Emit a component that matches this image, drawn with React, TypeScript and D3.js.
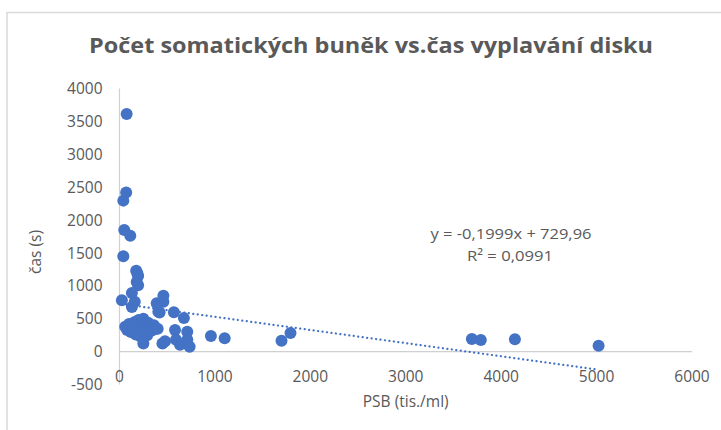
import React from "react";
import * as d3 from "d3";

const TITLE = "Počet somatických buněk vs.čas vyplavání disku";
const X_TITLE = "PSB (tis./ml)";
const Y_TITLE = "čas (s)";
const X_TICKS = [0, 1000, 2000, 3000, 4000, 5000, 6000];
const Y_TICKS = [-500, 0, 500, 1000, 1500, 2000, 2500, 3000, 3500, 4000];

const psb = [
  75, 70, 40, 50, 113, 40, 175, 195, 180, 195, 187, 130, 25, 160, 130, 460, 390, 460, 420, 570, 675,
  407, 145,
  60, 80, 100, 120, 140, 160, 180, 200, 210, 230, 250, 260, 280, 300, 320, 340, 360, 380, 400, 170, 220, 290, 130, 240,
  250, 450, 477, 582, 592, 634, 710, 711, 735, 958, 1102, 1698, 1792, 3693, 3787, 4144, 5021,
];
const cas = [
  3610, 2420, 2295, 1850, 1760, 1450, 1230, 1150, 1060, 1010, 1190, 890, 780, 760, 680, 850, 735, 760, 595, 600, 510,
  608, 430,
  380, 330, 420, 300, 360, 450, 390, 480, 310, 420, 500, 360, 280, 440, 380, 320, 400, 350, 350, 260, 230, 250, 400, 340,
  125, 125, 160, 330, 180, 105, 304, 180, 76, 240, 203, 167, 285, 193, 178, 188, 91,
];

const SLOPE = -0.1999;
const INTERCEPT = 729.96;
const EQ_TEXT = "y = -0,1999x + 729,96";
const R2_TEXT = "R² = 0,0991";

const FONT = "'Open Sans', 'DejaVu Sans', sans-serif";
const GRAY = "#595959";
const BLUE = "#4472C4";

export default function App() {
  const x = d3.scaleLinear().domain([0, 6000]).range([119.5, 692]);
  const y = d3.scaleLinear().domain([-500, 4000]).range([384.6, 88.4]);
  const xMin = d3.min(psb) as number;
  const xMax = d3.max(psb) as number;
  const trend = d3
    .line<number>()
    .x((d) => x(d))
    .y((d) => y(SLOPE * d + INTERCEPT));

  return (
    <svg
      width={721}
      height={430}
      style={{ position: "absolute", left: 0, top: 0, background: "#fff" }}
    >
      <rect x={0} y={0} width={721} height={430} fill="#fff" />
      <rect x={7} y={12.5} width={760} height={460} fill="#fff" stroke="#d9d9d9" strokeWidth={1.5} />
      <text
        x={371}
        y={53}
        textAnchor="middle"
        fontFamily={FONT}
        fontWeight={700}
        fontSize={21.5}
        fill={GRAY}
        textLength={564}
        lengthAdjust="spacingAndGlyphs"
      >
        {TITLE}
      </text>
      {/* axes */}
      <line x1={x(0)} x2={x(0)} y1={y(4000)} y2={y(-500)} stroke="#d0d0d0" strokeWidth={1.2} />
      <line x1={x(0)} x2={x(6000)} y1={y(0)} y2={y(0)} stroke="#d0d0d0" strokeWidth={1.2} />
      {Y_TICKS.map((t) => (
        <text
          key={"y" + t}
          x={102.5}
          y={y(t)}
          dy="0.36em"
          textAnchor="end"
          fontFamily={FONT}
          fontSize={15.5}
          fill={GRAY}
        >
          {t}
        </text>
      ))}
      {X_TICKS.map((t) => (
        <text
          key={"x" + t}
          x={x(t)}
          y={376}
          dy="0.36em"
          textAnchor="middle"
          fontFamily={FONT}
          fontSize={15.5}
          fill={GRAY}
        >
          {t}
        </text>
      ))}
      <text
        x={405.7}
        y={401.7}
        dy="0.36em"
        textAnchor="middle"
        fontFamily={FONT}
        fontSize={15.5}
        fill={GRAY}
      >
        {X_TITLE}
      </text>
      <text
        transform="translate(35,252) rotate(-90)"
        dy="0.36em"
        textAnchor="middle"
        fontFamily={FONT}
        fontSize={15.5}
        fill={GRAY}
      >
        {Y_TITLE}
      </text>
      {/* points */}
      {psb.map((v, i) => (
        <circle key={i} cx={x(v)} cy={y(cas[i])} r={6} fill={BLUE} />
      ))}
      {/* trendline */}
      <path
        d={trend([xMin, xMax]) || ""}
        fill="none"
        stroke={BLUE}
        strokeWidth={2.2}
        strokeDasharray="0.1 4.4"
        strokeLinecap="round"
      />
      <text
        x={511}
        y={233.3}
        dy="0.36em"
        textAnchor="middle"
        fontFamily={FONT}
        fontSize={15}
        fill={GRAY}
        textLength={161}
        lengthAdjust="spacingAndGlyphs"
      >
        {EQ_TEXT}
      </text>
      <text
        x={510}
        y={256}
        dy="0.36em"
        textAnchor="middle"
        fontFamily={FONT}
        fontSize={15}
        fill={GRAY}
        textLength={86}
        lengthAdjust="spacingAndGlyphs"
      >
        {R2_TEXT}
      </text>
    </svg>
  );
}
